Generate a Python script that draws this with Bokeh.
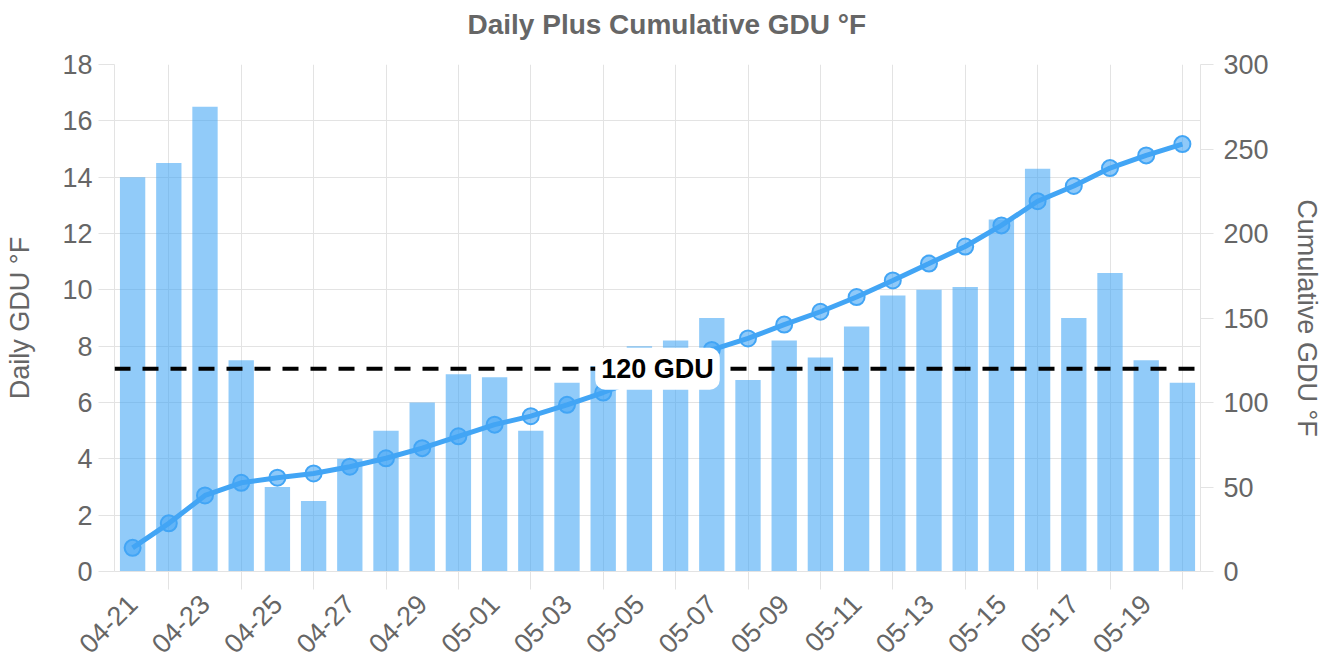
import math
from bokeh.plotting import figure
from bokeh.models import (Range1d, LinearAxis, FixedTicker, Span, Label, Title, ColumnDataSource)
from bokeh.embed import file_html
from bokeh.resources import INLINE

# ---- data ----
dates = ["04-21", "04-22", "04-23", "04-24", "04-25", "04-26", "04-27", "04-28", "04-29", "04-30",
         "05-01", "05-02", "05-03", "05-04", "05-05", "05-06", "05-07", "05-08", "05-09", "05-10",
         "05-11", "05-12", "05-13", "05-14", "05-15", "05-16", "05-17", "05-18", "05-19", "05-20"]
daily = [14.0, 14.5, 16.5, 7.5, 3.0, 2.5, 4.0, 5.0, 6.0, 7.0,
         6.9, 5.0, 6.7, 7.3, 8.0, 8.2, 9.0, 6.8, 8.2, 7.6,
         8.7, 9.8, 10.0, 10.1, 12.5, 14.3, 9.0, 10.6, 7.5, 6.7]
cumulative = [14.0, 28.5, 45.0, 52.5, 55.5, 58.0, 62.0, 67.0, 73.0, 80.0,
              86.9, 91.9, 98.6, 105.9, 113.9, 122.1, 131.1, 137.9, 146.1, 153.7,
              162.4, 172.2, 182.2, 192.3, 204.8, 219.1, 228.1, 238.7, 246.2, 252.9]
threshold = 120
threshold_label = "120 GDU"
title_text = "Daily Plus Cumulative GDU °F"
left_ticks = [0, 2, 4, 6, 8, 10, 12, 14, 16, 18]
right_ticks = [0, 50, 100, 150, 200, 250, 300]

FONT = "Liberation Sans"
GRAY = "#666666"
GRID = "#e3e3e3"
BLUE = "#42A5F5"

idx = list(range(len(dates)))
src = ColumnDataSource(dict(x=idx, daily=daily, cum=cumulative, date=dates))

p = figure(width=1335, height=666, output_backend="svg", toolbar_location=None,
           x_range=Range1d(-0.5, len(dates) - 0.5), y_range=Range1d(0, 18),
           min_border_left=114, min_border_right=135, min_border_top=64, min_border_bottom=95)
p.extra_y_ranges = {"cum": Range1d(0, 300)}
p.outline_line_color = None
p.background_fill_color = "white"
p.border_fill_color = "white"

# title: a small spacer panel next to the frame, then the real title above it
spacer = Title(text=" ", text_font_size="10px", standoff=10, text_color="white")
p.add_layout(spacer, "above")
main_title = Title(text=title_text, align="left", offset=353, vertical_align="top", standoff=0,
                   text_font=FONT, text_font_size="28px", text_font_style="bold", text_color=GRAY)
p.add_layout(main_title, "above")

# bars
p.vbar(x="x", top="daily", width=0.7, source=src, fill_color=BLUE, fill_alpha=0.58, line_color=None)

# cumulative line
p.line(x="x", y="cum", source=src, y_range_name="cum", line_color=BLUE, line_width=5)
p.scatter(x="x", y="cum", source=src, y_range_name="cum", size=16, fill_color=BLUE, fill_alpha=0.6,
          line_color=BLUE, line_width=2)

# threshold
span = Span(location=threshold, dimension="width", y_range_name="cum", line_color="black",
            line_width=4, line_dash="16 12")
p.add_layout(span)
lab = Label(x=(len(dates) - 1) / 2, y=threshold, y_range_name="cum", text=threshold_label,
            text_align="center", text_baseline="middle", text_font=FONT, text_font_size="27px",
            text_font_style="bold", text_color="black", background_fill_color="white",
            padding=6, border_radius=10)
p.add_layout(lab)

# x axis
xa = p.xaxis[0]
xa.ticker = FixedTicker(ticks=idx[0::2], minor_ticks=idx[1::2])
xa.major_label_overrides = {i: dates[i] for i in idx[0::2]}
xa.major_label_orientation = math.pi / 4
xa.major_tick_out = 0
xa.major_tick_in = 0
xa.minor_tick_out = 18
xa.minor_tick_in = 0
xa.minor_tick_line_color = GRID
xa.axis_line_color = GRID
xa.major_label_text_font = FONT
xa.major_label_text_font_size = "27px"
xa.major_label_text_color = GRAY
xa.major_label_standoff = 10

# left axis
ya = p.yaxis[0]
ya.ticker = FixedTicker(ticks=left_ticks)
ya.axis_label = "Daily GDU °F"
ya.axis_label_text_font = FONT
ya.axis_label_text_font_size = "27px"
ya.axis_label_text_font_style = "normal"
ya.axis_label_text_color = GRAY
ya.axis_label_standoff = 24
ya.major_label_text_font = FONT
ya.major_label_text_font_size = "27px"
ya.major_label_text_color = GRAY
ya.major_label_standoff = 6
ya.major_tick_out = 16
ya.major_tick_in = 0
ya.minor_tick_out = 0
ya.minor_tick_in = 0
ya.major_tick_line_color = GRID
ya.axis_line_color = GRID

# right axis
ra = LinearAxis(y_range_name="cum", ticker=FixedTicker(ticks=right_ticks))
ra.axis_label = "Cumulative GDU °F"
ra.axis_label_text_font = FONT
ra.axis_label_text_font_size = "27px"
ra.axis_label_text_font_style = "normal"
ra.axis_label_text_color = GRAY
ra.axis_label_standoff = 20
ra.major_label_text_font = FONT
ra.major_label_text_font_size = "27px"
ra.major_label_text_color = GRAY
ra.major_label_standoff = 10
ra.major_tick_out = 13
ra.major_tick_in = 0
ra.minor_tick_out = 0
ra.minor_tick_in = 0
ra.major_tick_line_color = GRID
ra.axis_line_color = GRID
p.add_layout(ra, "right")

# grids
p.xgrid.ticker = FixedTicker(ticks=idx[1::2])
p.xgrid.grid_line_color = GRID
p.xgrid.grid_line_width = 1
p.ygrid.grid_line_color = GRID
p.ygrid.grid_line_width = 1

open("out.html", "w").write(file_html(p, INLINE))
